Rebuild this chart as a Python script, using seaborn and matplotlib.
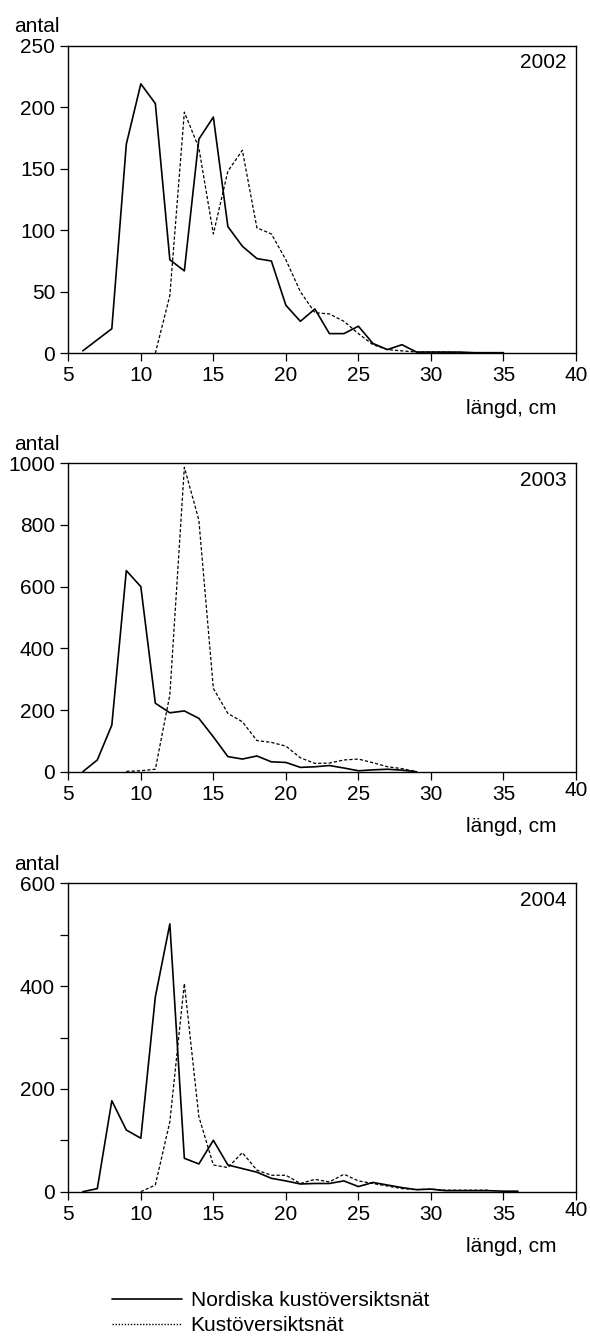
import matplotlib
matplotlib.use("Agg")
import matplotlib.pyplot as plt
from matplotlib.lines import Line2D
from matplotlib.ticker import MultipleLocator
import pandas as pd
import seaborn as sns

# Length distributions (number of fish per cm class) for two net types
years = ["2002", "2003", "2004"]
series_names = ["Nordiska kustöversiktsnät", "Kustöversiktsnät"]

len_2002_nordic = list(range(6, 36))
cnt_2002_nordic = [2, 11, 20, 170, 219, 203, 76, 67, 174, 192, 103, 87, 77, 75, 39,
                   26, 36, 16, 16, 22, 8, 3, 7, 1, 1, 1, 1, 0.5, 0.5, 0.5]
len_2002_kust = list(range(11, 33))
cnt_2002_kust = [0, 47, 196, 167, 97, 148, 165, 102, 97, 76, 50, 33, 32, 26, 16,
                 7, 3, 2, 1, 1, 1, 0.5]

len_2003_nordic = list(range(6, 30))
cnt_2003_nordic = [0, 38, 151, 652, 600, 222, 191, 197, 173, 113, 49, 41, 51, 32,
                   30, 14, 16, 20, 12, 3, 6, 8, 5, 0]
len_2003_kust = list(range(9, 30))
cnt_2003_kust = [1, 3, 8, 249, 987, 816, 270, 189, 162, 101, 95, 83, 45, 27, 28,
                 38, 41, 29, 16, 10, 0]

len_2004_nordic = list(range(6, 37))
cnt_2004_nordic = [0, 6, 177, 120, 104, 379, 521, 65, 54, 100, 52, 45, 38, 26, 21,
                   15, 16, 16, 21, 10, 18, 13, 8, 4, 5, 2, 2, 2, 2, 1, 1]
len_2004_kust = list(range(10, 35))
cnt_2004_kust = [0, 13, 136, 405, 146, 52, 47, 76, 42, 32, 32, 16, 24, 19, 34, 21,
                 16, 11, 6, 4, 5, 3, 3, 3, 3]

x_ticks = [5, 10, 15, 20, 25, 30, 35, 40]
y_limits = [250, 1000, 600]
y_major = [50, 200, 200]
y_minor = [None, None, 100]

panels = [
    (len_2002_nordic, cnt_2002_nordic, len_2002_kust, cnt_2002_kust),
    (len_2003_nordic, cnt_2003_nordic, len_2003_kust, cnt_2003_kust),
    (len_2004_nordic, cnt_2004_nordic, len_2004_kust, cnt_2004_kust),
]

sns.set_style("ticks")
plt.rcParams["font.family"] = ["Liberation Sans", "DejaVu Sans"]
plt.rcParams["axes.linewidth"] = 1.0
for key in ("text.color", "axes.labelcolor", "xtick.color", "ytick.color",
            "axes.edgecolor"):
    plt.rcParams[key] = "black"

W, H = 590, 1338
fig = plt.figure(figsize=(W / 100, H / 100), dpi=100)

# axes boxes in pixels: (left, top, right, bottom)
boxes = [(68.3, 45.7, 576, 353.3),
         (68.3, 463.3, 576, 771.7),
         (68.3, 883.3, 576, 1191.7)]

solid_kw = dict(color="black", linewidth=1.2)
dash_kw = dict(color="black", linewidth=0.9, linestyle=(0, (2.6, 1.6)))

FS = 15
TICKLEN = 6
PAD = 3.5

for i, (year, (xn, yn, xk, yk)) in enumerate(zip(years, panels)):
    l, t, r, b = boxes[i]
    ax = fig.add_axes([l / W, 1 - b / H, (r - l) / W, (b - t) / H])
    df_n = pd.DataFrame({"längd": xn, "antal": yn})
    df_k = pd.DataFrame({"längd": xk, "antal": yk})
    sns.lineplot(data=df_n, x="längd", y="antal", ax=ax, estimator=None,
                 errorbar=None, **solid_kw)
    sns.lineplot(data=df_k, x="längd", y="antal", ax=ax, estimator=None,
                 errorbar=None, **dash_kw)

    ax.set_xlim(5, 40)
    ax.set_ylim(0, y_limits[i])
    ax.set_xlabel("")
    ax.set_ylabel("")
    ax.yaxis.set_major_locator(MultipleLocator(y_major[i]))
    if y_minor[i]:
        ax.yaxis.set_minor_locator(MultipleLocator(y_minor[i]))
        ax.tick_params(axis="y", which="minor", direction="out",
                       length=TICKLEN, width=0.9)
    ax.set_xticks(x_ticks)
    if i == 0:
        ax.set_xticklabels([str(v) for v in x_ticks])
    else:
        ax.set_xticklabels([str(v) for v in x_ticks[:-1]] + [""])
        ax.annotate(str(x_ticks[-1]), xy=(x_ticks[-1], 0),
                    xycoords=("data", "axes fraction"),
                    xytext=(0, -(TICKLEN + PAD) + 2.5), textcoords="offset points",
                    ha="center", va="top", fontsize=FS)
    ax.tick_params(axis="both", which="major", direction="out",
                   length=TICKLEN, width=0.9, labelsize=FS, pad=PAD)
    for sp in ax.spines.values():
        sp.set_visible(True)
        sp.set_linewidth(1.0)
        sp.set_color("black")

    ax.annotate("antal", xy=(0, 1), xycoords="axes fraction",
                xytext=(-39, 9.8), textcoords="offset points",
                ha="left", va="baseline", fontsize=FS)
    ax.annotate(year, xy=(1, 1), xycoords="axes fraction",
                xytext=(-6.5, -16), textcoords="offset points",
                ha="right", va="baseline", fontsize=FS)
    ax.annotate("längd, cm", xy=(1, 0), xycoords="axes fraction",
                xytext=(-13.7, -43.4), textcoords="offset points",
                ha="right", va="baseline", fontsize=FS)

handles = [Line2D([], [], color="black", linewidth=1.2),
           Line2D([], [], color="black", linewidth=1.0, linestyle=(0, (1, 1.2)))]
fig.legend(handles, series_names, loc="upper left",
           bbox_to_anchor=(111.7 / W, 1 - 1291 / H), frameon=False,
           fontsize=FS, handlelength=3.36, handletextpad=0.43,
           labelspacing=0.3, borderpad=0, borderaxespad=0)

fig.savefig("out.png", dpi=100)
